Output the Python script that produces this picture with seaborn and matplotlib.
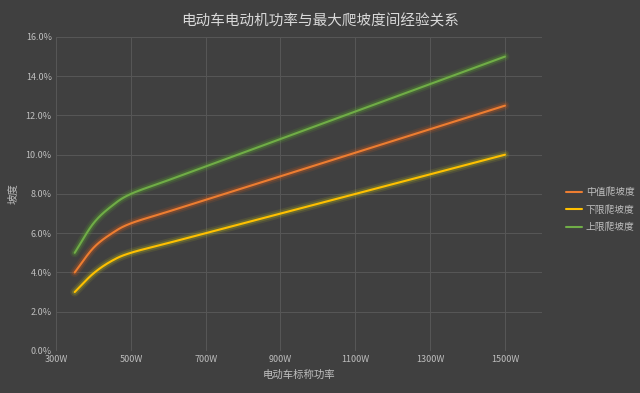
import numpy as np
import pandas as pd
import matplotlib
matplotlib.use('Agg')
import matplotlib.pyplot as plt
import matplotlib.patheffects as pe
from matplotlib.ticker import FuncFormatter, MultipleLocator
import seaborn as sns

power = [350, 400, 450, 500, 600, 700, 800, 900, 1000, 1100, 1200, 1300, 1400, 1500]
mid_grade = [4.0, 5.25, 6.0, 6.5, 7.1, 7.7, 8.3, 8.9, 9.5, 10.1, 10.7, 11.3, 11.9, 12.5]
low_grade = [3.0, 3.95, 4.6, 5.0, 5.5, 6.0, 6.5, 7.0, 7.5, 8.0, 8.5, 9.0, 9.5, 10.0]
high_grade = [5.0, 6.5, 7.4, 8.0, 8.7, 9.4, 10.1, 10.8, 11.5, 12.2, 12.9, 13.6, 14.3, 15.0]
series_names = ['中值爬坡度', '下限爬坡度', '上限爬坡度']
series_colors = ['#ED7D31', '#FFC000', '#70AD47']
glow_colors = ['#C05A20', '#A8A820', '#5A9A30']


def smooth(x, y, n=20):
    # catmull-rom style smoothing like excel's smoothed line
    x = np.asarray(x, float)
    y = np.asarray(y, float)
    px = np.concatenate([[2 * x[0] - x[1]], x, [2 * x[-1] - x[-2]]])
    py = np.concatenate([[2 * y[0] - y[1]], y, [2 * y[-1] - y[-2]]])
    xs, ys = [], []
    for i in range(1, len(px) - 2):
        t = np.linspace(0, 1, n, endpoint=False)
        for arr, out in ((px, xs), (py, ys)):
            p0, p1, p2, p3 = arr[i - 1], arr[i], arr[i + 1], arr[i + 2]
            out.extend(0.5 * ((2 * p1) + (-p0 + p2) * t + (2 * p0 - 5 * p1 + 4 * p2 - p3) * t ** 2
                              + (-p0 + 3 * p1 - 3 * p2 + p3) * t ** 3))
    xs.append(x[-1])
    ys.append(y[-1])
    return np.array(xs), np.array(ys)


frames = []
for name, vals in zip(series_names, [mid_grade, low_grade, high_grade]):
    sx, sy = smooth(power, vals)
    frames.append(pd.DataFrame({'power': sx, 'grade': sy / 100, 'series': name}))
df = pd.concat(frames, ignore_index=True)

sns.set_style('dark')
bg = '#404040'
txt = '#BFBFBF'
plt.rcParams['font.family'] = ['Noto Sans CJK SC', 'DejaVu Sans']

fig = plt.figure(figsize=(6.4, 3.93), dpi=100, facecolor=bg)
ax = fig.add_axes([0.0875, 0.107, 0.76, 0.799])
ax.set_facecolor(bg)

sns.lineplot(data=df, x='power', y='grade', hue='series', hue_order=series_names,
             palette=series_colors, linewidth=1.5, sort=False, estimator=None, ax=ax)

for line, gc in zip(ax.get_lines(), glow_colors):
    line.set_path_effects([pe.Stroke(linewidth=6.5, foreground=gc, alpha=0.15),
                           pe.Stroke(linewidth=4, foreground=gc, alpha=0.3),
                           pe.Normal()])

ax.set_xlim(300, 1600)
ax.set_ylim(0, 0.16)
ax.set_xticks(range(300, 1501, 200))
ax.xaxis.set_major_formatter(FuncFormatter(lambda v, p: f'{int(v)}W'))
ax.yaxis.set_major_locator(MultipleLocator(0.02))
ax.yaxis.set_major_formatter(FuncFormatter(lambda v, p: f'{v * 100:.1f}%'))
ax.grid(True, color='#575757', linewidth=0.7)
for s in ax.spines.values():
    s.set_visible(False)
ax.tick_params(colors=txt, labelsize=6.5, length=0, pad=3)

ax.set_xlabel('电动车标称功率', color=txt, fontsize=7.5, labelpad=4)
ax.set_ylabel('坡度', color=txt, fontsize=7.5, labelpad=6)
fig.suptitle('电动车电动机功率与最大爬坡度间经验关系', color='#D9D9D9', fontsize=10.5, y=0.965)

leg = ax.legend(loc='center left', bbox_to_anchor=(1.03, 0.45), frameon=False,
                fontsize=7, handlelength=1.7, handletextpad=0.35, labelspacing=0.75)
for t in leg.get_texts():
    t.set_color(txt)
for h in leg.get_lines():
    h.set_path_effects([])
    h.set_linewidth(1.5)

fig.savefig('out.png', dpi=100, facecolor=bg)
